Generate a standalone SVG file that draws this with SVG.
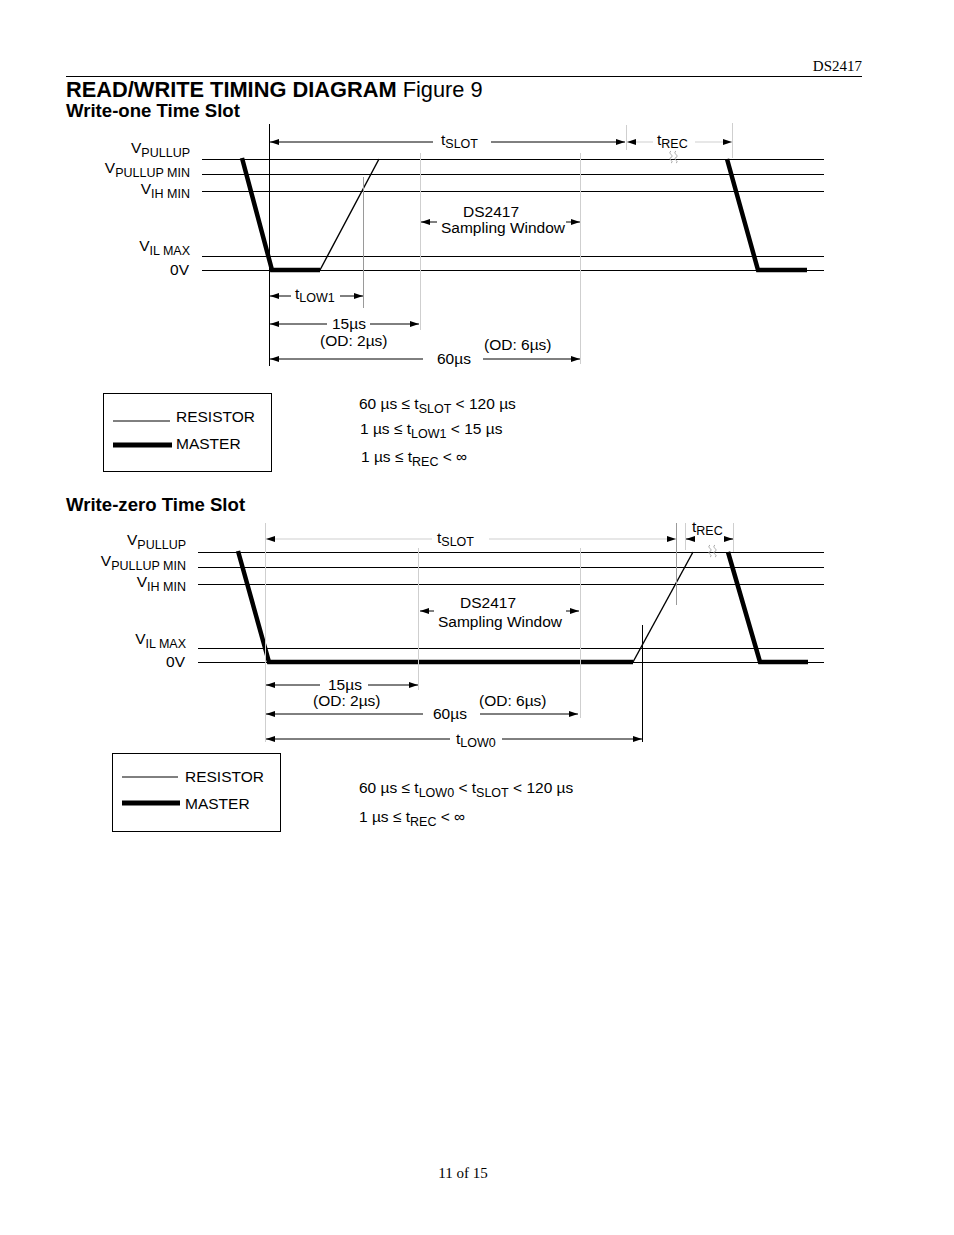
<svg xmlns="http://www.w3.org/2000/svg" width="954" height="1235" viewBox="0 0 954 1235">
<style>
.t{font-family:"Liberation Sans",Arial,sans-serif;font-size:15.5px;fill:#000}
.s{font-size:12.5px}
.tm{font-family:"Liberation Serif","Times New Roman",serif;font-size:15px;fill:#000}
.b{font-weight:bold}
.ln{stroke:#000;stroke-width:1;fill:none}
.lg{stroke:#cfcfcf;stroke-width:1;fill:none}
.lm{stroke:#9a9a9a;stroke-width:1;fill:none}
.sq{stroke:#a8a8a8;stroke-width:1;fill:none}
.m{stroke:#000;stroke-width:4.5;fill:none;stroke-linejoin:miter;stroke-linecap:butt}
.r{stroke:#000;stroke-width:1.4;fill:none}
.a{marker-end:url(#ah)}
</style>
<defs>
<marker id="ah" markerUnits="userSpaceOnUse" markerWidth="9" markerHeight="6" refX="9" refY="3" orient="auto">
<path d="M0,0 L9,3 L0,6 z" fill="#000"/>
</marker>
</defs>
<rect width="954" height="1235" fill="#fff"/>

<g id="header">
<text class="tm" x="862" y="71" text-anchor="end">DS2417</text>
<line class="ln" x1="66" y1="76.5" x2="862" y2="76.5"/>
<text class="t b" x="66" y="97" style="font-size:21.8px">READ/WRITE TIMING DIAGRAM <tspan style="font-weight:normal">Figure 9</tspan></text>
<text class="t b" x="66" y="117" style="font-size:18.6px">Write-one Time Slot</text>
</g>

<g id="w1-levels">
<line class="ln" x1="202" y1="159.5" x2="824" y2="159.5"/>
<line class="ln" x1="202" y1="174.5" x2="824" y2="174.5"/>
<line class="ln" x1="202" y1="191.5" x2="824" y2="191.5"/>
<line class="ln" x1="202" y1="256.5" x2="824" y2="256.5"/>
<line class="ln" x1="202" y1="270.5" x2="824" y2="270.5"/>
<text class="t" x="190" y="153" text-anchor="end">V<tspan class="s" dy="4">PULLUP</tspan></text>
<text class="t" x="190" y="173" text-anchor="end">V<tspan class="s" dy="4">PULLUP MIN</tspan></text>
<text class="t" x="190" y="194" text-anchor="end">V<tspan class="s" dy="4">IH MIN</tspan></text>
<text class="t" x="190" y="251" text-anchor="end">V<tspan class="s" dy="4">IL MAX</tspan></text>
<text class="t" x="189" y="275" text-anchor="end">0V</text>
</g>

<g id="w1-signals">
<polyline class="m" points="242,158 272,270 320,270"/>
<line class="r" x1="320" y1="270" x2="379" y2="159"/>
<polyline class="m" points="727,159 758,270 807,270"/>
</g>

<g id="w1-markers">
<line class="ln" x1="269.5" y1="124" x2="269.5" y2="366"/>
<line class="lm" x1="363.5" y1="177" x2="363.5" y2="308"/>
<line class="lg" x1="420.5" y1="153" x2="420.5" y2="330"/>
<line class="lg" x1="580.5" y1="153" x2="580.5" y2="364"/>
<line class="lg" x1="626.5" y1="125" x2="626.5" y2="150"/>
<line class="lg" x1="732.5" y1="123" x2="732.5" y2="158"/>
<path class="sq" d="M671,151 c-4,2.5 4,4.5 0,6.5 c-4,2 4,3.5 0,5.5 M676,151 c-4,2.5 4,4.5 0,6.5 c-4,2 4,3.5 0,5.5"/>
</g>

<g id="w1-connectors">
<line class="ln a" x1="433" y1="142" x2="270" y2="142"/>
<line class="ln a" x1="491" y1="142" x2="625" y2="142"/>
<line class="lg a" x1="653" y1="142" x2="627" y2="142"/>
<line class="lg a" x1="695" y1="142" x2="732" y2="142"/>
<line class="ln a" x1="437" y1="222" x2="421" y2="222"/>
<line class="ln a" x1="566" y1="222" x2="580" y2="222"/>
<line class="ln a" x1="291" y1="296" x2="270" y2="296"/>
<line class="ln a" x1="340" y1="296" x2="363" y2="296"/>
<line class="ln a" x1="327" y1="324" x2="270" y2="324"/>
<line class="ln a" x1="370" y1="324" x2="419" y2="324"/>
<line class="ln a" x1="423" y1="359" x2="270" y2="359"/>
<line class="ln a" x1="483" y1="359" x2="580" y2="359"/>
</g>

<g id="w1-labels">
<text class="t" x="441" y="145">t<tspan class="s" dy="3">SLOT</tspan></text>
<text class="t" x="657" y="145">t<tspan class="s" dy="3">REC</tspan></text>
<text class="t" x="463" y="217">DS2417</text>
<text class="t" x="441" y="233">Sampling Window</text>
<text class="t" x="295" y="299">t<tspan class="s" dy="3">LOW1</tspan></text>
<text class="t" x="332" y="329">15µs</text>
<text class="t" x="320" y="346">(OD: 2µs)</text>
<text class="t" x="437" y="364">60µs</text>
<text class="t" x="484" y="350">(OD: 6µs)</text>
</g>

<g id="w1-legend">
<rect class="ln" x="103.5" y="393.5" width="168" height="78"/>
<line class="ln" x1="113" y1="421" x2="170" y2="421"/>
<text class="t" x="176" y="422">RESISTOR</text>
<line stroke="#000" stroke-width="5" x1="113" y1="445" x2="172" y2="445"/>
<text class="t" x="176" y="449">MASTER</text>
</g>

<g id="w1-equations">
<text class="t" x="359" y="409">60 µs ≤ t<tspan class="s" dy="4">SLOT</tspan><tspan dy="-4"> &lt; 120 µs</tspan></text>
<text class="t" x="360" y="434">1 µs ≤ t<tspan class="s" dy="4">LOW1</tspan><tspan dy="-4"> &lt; 15 µs</tspan></text>
<text class="t" x="361" y="462">1 µs ≤ t<tspan class="s" dy="4">REC</tspan><tspan dy="-4"> &lt; ∞</tspan></text>
</g>

<g id="w0-title">
<text class="t b" x="66" y="511" style="font-size:18.6px">Write-zero Time Slot</text>
</g>

<g id="w0-levels">
<line class="ln" x1="198" y1="552.5" x2="824" y2="552.5"/>
<line class="ln" x1="198" y1="567.5" x2="824" y2="567.5"/>
<line class="ln" x1="198" y1="584.5" x2="824" y2="584.5"/>
<line class="ln" x1="198" y1="648.5" x2="824" y2="648.5"/>
<line class="ln" x1="198" y1="662.5" x2="824" y2="662.5"/>
<text class="t" x="186" y="545" text-anchor="end">V<tspan class="s" dy="4">PULLUP</tspan></text>
<text class="t" x="186" y="566" text-anchor="end">V<tspan class="s" dy="4">PULLUP MIN</tspan></text>
<text class="t" x="186" y="587" text-anchor="end">V<tspan class="s" dy="4">IH MIN</tspan></text>
<text class="t" x="186" y="644" text-anchor="end">V<tspan class="s" dy="4">IL MAX</tspan></text>
<text class="t" x="185" y="667" text-anchor="end">0V</text>
</g>

<g id="w0-signals">
<polyline class="m" points="238,551 269,662 633,662"/>
<line class="r" x1="633" y1="662" x2="693" y2="552"/>
<polyline class="m" points="728,552 760,662 808,662"/>
</g>

<g id="w0-markers">
<line class="lg" x1="265.5" y1="523" x2="265.5" y2="742"/>
<line class="lg" x1="418.5" y1="548" x2="418.5" y2="690"/>
<line class="lg" x1="580.5" y1="548" x2="580.5" y2="718"/>
<line class="lm" x1="676.5" y1="523" x2="676.5" y2="605"/>
<line class="lg" x1="685.5" y1="523" x2="685.5" y2="550"/>
<line class="lg" x1="733.5" y1="523" x2="733.5" y2="552"/>
<line class="ln" x1="642.5" y1="625" x2="642.5" y2="742"/>
<path class="sq" d="M710,545 c-4,2.5 4,4.5 0,6.5 c-4,2 4,3.5 0,5.5 M715,545 c-4,2.5 4,4.5 0,6.5 c-4,2 4,3.5 0,5.5"/>
</g>

<g id="w0-connectors">
<line class="lg a" x1="432" y1="539" x2="266" y2="539"/>
<line class="lg a" x1="489" y1="539" x2="676" y2="539"/>
<line class="ln a" x1="694" y1="539" x2="686" y2="539"/>
<line class="ln a" x1="724" y1="539" x2="733" y2="539"/>
<line class="ln a" x1="434" y1="611" x2="420" y2="611"/>
<line class="ln a" x1="566" y1="611" x2="579" y2="611"/>
<line class="ln a" x1="320" y1="685" x2="266" y2="685"/>
<line class="ln a" x1="368" y1="685" x2="418" y2="685"/>
<line class="ln a" x1="423" y1="714" x2="266" y2="714"/>
<line class="ln a" x1="480" y1="714" x2="578" y2="714"/>
<line class="ln a" x1="450" y1="739" x2="266" y2="739"/>
<line class="ln a" x1="502" y1="739" x2="642" y2="739"/>
</g>

<g id="w0-labels">
<text class="t" x="437" y="543">t<tspan class="s" dy="3">SLOT</tspan></text>
<text class="t" x="692" y="532">t<tspan class="s" dy="3">REC</tspan></text>
<text class="t" x="460" y="608">DS2417</text>
<text class="t" x="438" y="627">Sampling Window</text>
<text class="t" x="328" y="690">15µs</text>
<text class="t" x="313" y="706">(OD: 2µs)</text>
<text class="t" x="433" y="719">60µs</text>
<text class="t" x="479" y="706">(OD: 6µs)</text>
<text class="t" x="456" y="744">t<tspan class="s" dy="3">LOW0</tspan></text>
</g>

<g id="w0-legend">
<rect class="ln" x="112.5" y="753.5" width="168" height="78"/>
<line class="ln" x1="122" y1="777" x2="178" y2="777"/>
<text class="t" x="185" y="782">RESISTOR</text>
<line stroke="#000" stroke-width="5" x1="122" y1="803" x2="180" y2="803"/>
<text class="t" x="185" y="809">MASTER</text>
</g>

<g id="w0-equations">
<text class="t" x="359" y="793">60 µs ≤ t<tspan class="s" dy="4">LOW0</tspan><tspan dy="-4"> &lt; t</tspan><tspan class="s" dy="4">SLOT</tspan><tspan dy="-4"> &lt; 120 µs</tspan></text>
<text class="t" x="359" y="822">1 µs ≤ t<tspan class="s" dy="4">REC</tspan><tspan dy="-4"> &lt; ∞</tspan></text>
</g>

<g id="footer">
<text class="tm" x="463" y="1178" text-anchor="middle">11 of 15</text>
</g>
</svg>
